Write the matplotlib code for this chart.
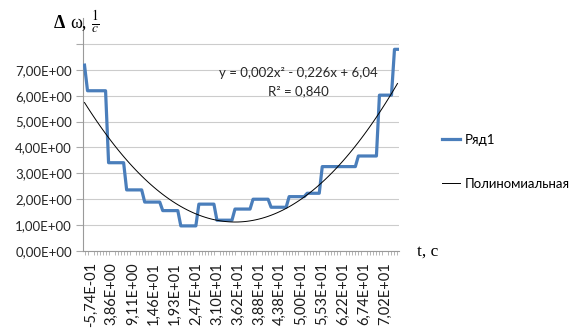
import numpy as np
import matplotlib.pyplot as plt

omega = [7.18,
         6.19, 6.19, 6.19, 6.19, 6.19, 6.19, 6.19,
         3.41, 3.41, 3.41, 3.41, 3.41, 3.41,
         2.36, 2.36, 2.36, 2.36, 2.36, 2.36,
         1.89, 1.89, 1.89, 1.89, 1.89, 1.89,
         1.56, 1.56, 1.56, 1.56, 1.56, 1.56,
         0.97, 0.97, 0.97, 0.97, 0.97, 0.97,
         1.81, 1.81, 1.81, 1.81, 1.81, 1.81,
         1.19, 1.19, 1.19, 1.19, 1.19, 1.19,
         1.62, 1.62, 1.62, 1.62, 1.62, 1.62,
         2.00, 2.00, 2.00, 2.00, 2.00, 2.00,
         1.69, 1.69, 1.69, 1.69, 1.69, 1.69,
         2.10, 2.10, 2.10, 2.10, 2.10, 2.10,
         2.23, 2.23, 2.23, 2.23, 2.23,
         3.26, 3.26, 3.26, 3.26, 3.26, 3.26, 3.26, 3.26, 3.26, 3.26, 3.26, 3.26,
         3.67, 3.67, 3.67, 3.67, 3.67, 3.67, 3.67,
         6.02, 6.02, 6.02, 6.02, 6.02,
         7.79, 7.79]

t_labels = ['-5,74E-01', '3,86E+00', '9,11E+00', '1,46E+01', '1,93E+01',
            '2,47E+01', '3,10E+01', '3,62E+01', '3,88E+01', '4,38E+01',
            '5,00E+01', '5,53E+01', '6,22E+01', '6,74E+01', '7,02E+01']
label_step = 7
label_start = 2

y_ticks = [0, 1, 2, 3, 4, 5, 6, 7, 8]
y_labels = ['0,00E+00', '1,00E+00', '2,00E+00', '3,00E+00', '4,00E+00',
            '5,00E+00', '6,00E+00', '7,00E+00', '']

plt.rcParams['font.family'] = ['Lato', 'Noto Sans', 'DejaVu Sans']
plt.rcParams['mathtext.fontset'] = 'stix'

fig = plt.figure(figsize=(5.77, 3.31), dpi=100)
ax = fig.add_axes([83 / 577, 80 / 331, 316 / 577, 233 / 331])

x = np.arange(len(omega))
ax.plot(x, omega, color='#4a7ebb', lw=2.3, label='Ряд1', zorder=3)

# polynomial trend, as Excel does it (x = 1..N)
coef = np.polyfit(x + 1, omega, 2)
ax.plot(x, np.polyval(coef, x + 1), color='black', lw=0.7,
        label='Полиномиальная', zorder=4)

ax.set_xlim(-0.5, len(omega) - 0.5)
ax.set_ylim(0, 9)
ax.set_yticks(y_ticks)
ax.set_yticklabels(y_labels, fontsize=9.5, color='#262626')
ax.yaxis.grid(True, color='#cccccc', lw=0.8)
ax.set_axisbelow(True)

ax.set_xticks(list(range(label_start, label_start + len(t_labels) * label_step, label_step)))
ax.set_xticklabels(t_labels, rotation=90, fontsize=10.5, color='#1a1a1a')
ax.set_xticks(x, minor=True)
ax.tick_params(axis='x', which='major', length=0, pad=8)
ax.tick_params(axis='x', which='minor', length=3, color='#aaaaaa')
ax.tick_params(axis='y', length=5, color='#aaaaaa', pad=3)

for side in ['top', 'right']:
    ax.spines[side].set_visible(False)
for side in ['left', 'bottom']:
    ax.spines[side].set_color('#9a9a9a')
    ax.spines[side].set_linewidth(0.8)

fig.legend(loc='upper left', bbox_to_anchor=(430 / 577, 1 - 122 / 331),
           frameon=False, handlelength=1.4, handletextpad=0.3,
           labelspacing=2.4, fontsize=9.5)

fig.text(298 / 577, 1 - 73 / 331, 'y = 0,002x² - 0,226x + 6,04',
         ha='center', va='center', fontsize=9.5, color='#262626')
fig.text(298 / 577, 1 - 91 / 331, 'R² = 0,840',
         ha='center', va='center', fontsize=9.5, color='#262626')

# axis captions
fig.text(54 / 577, 1 - 28 / 331, 'Δ', family='Liberation Serif',
         fontweight='bold', fontsize=13, va='baseline')
fig.text(70 / 577, 1 - 28 / 331, 'ω,', family='Liberation Serif',
         fontsize=13, va='baseline')
fig.text(91 / 577, 1 - 22 / 331, r'$\frac{1}{c}$', fontsize=14, va='center')
fig.text(417 / 577, 1 - 252 / 331, 't, c', family='Liberation Serif',
         fontsize=12.5, va='center')

fig.savefig('out.png', dpi=100)
